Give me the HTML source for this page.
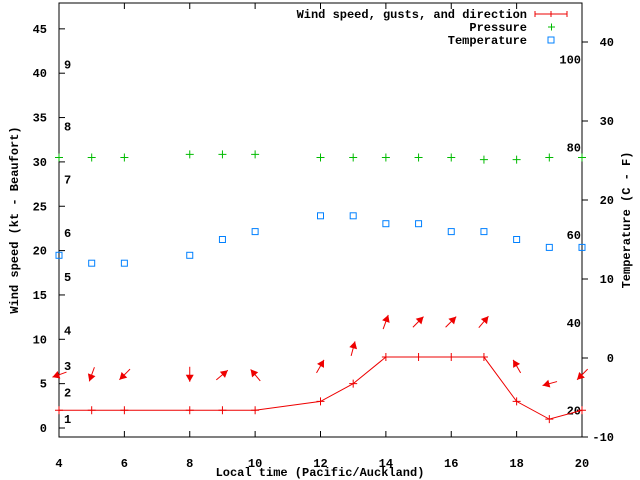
<!DOCTYPE html>
<html><head><meta charset="utf-8"><style>
html,body{margin:0;padding:0;background:#fff;}
svg{display:block;font-family:"Liberation Mono",monospace;font-weight:bold;font-size:12px;}
</style></head><body>
<svg id="chart" width="640" height="480" viewBox="0 0 640 480" xmlns="http://www.w3.org/2000/svg">
<g id="axes"></g>
<g id="marks"></g>
<g>
<text x="527" y="18" text-anchor="end">Wind speed, gusts, and direction</text>
<line x1="535" y1="14" x2="567" y2="14" stroke="#e00"/>
<line x1="535" y1="11" x2="535" y2="17" stroke="#e00"/>
<line x1="567" y1="11" x2="567" y2="17" stroke="#e00"/>
<line x1="551" y1="11" x2="551" y2="17" stroke="#e00"/>
<text x="527" y="31" text-anchor="end">Pressure</text>
<path d="M548,27h7M551.5,23.5v7" stroke="#0b0"/>
<text x="527" y="44" text-anchor="end">Temperature</text>
<rect x="548" y="37" width="6" height="6" fill="none" stroke="#0080ff"/>
</g>
<text x="320" y="476" text-anchor="middle">Local time (Pacific/Auckland)</text>
<text transform="translate(18,220) rotate(-90)" text-anchor="middle">Wind speed (kt - Beaufort)</text>
<text transform="translate(630,220) rotate(-90)" text-anchor="middle">Temperature (C - F)</text>
</svg>
<script>
const hours = [4,5,6,8,9,10,12,13,14,15,16,17,18,19,20];
const windSpeed = [2,2,2,2,2,2,3,5,8,8,8,8,3,1,2];
const windDir = [200,250,225,270,40,130,60,75,70,45,45,50,120,195,225];
const pressure = [30.5,30.5,30.5,30.85,30.85,30.85,30.5,30.5,30.5,30.5,30.5,30.25,30.25,30.5,30.5];
const temperature = [13,12,12,13,15,16,18,18,17,17,16,16,15,14,14];
const xTicks = [4,6,8,10,12,14,16,18,20];
const yTicks = [0,5,10,15,20,25,30,35,40,45];
const cTicks = [-10,0,10,20,30,40];
const fTicks = [20,40,60,80,100];
const beaufortLabels = ["1","2","3","4","5","6","7","8","9"];
const beaufortPos = [1,4,7,11,17,22,28,34,41];

const L=59,R=582,T=3,B=437;
const x = h => L + (h-4)*(R-L)/16;
const y = v => 428 - v*8.87;
const yc = c => 358 - c*7.9;
const NS="http://www.w3.org/2000/svg";
const axes=document.getElementById('axes'), marks=document.getElementById('marks');
function mk(tag, attrs, parent, txt){const e=document.createElementNS(NS,tag);for(const k in attrs)e.setAttribute(k,attrs[k]);if(txt!==undefined)e.textContent=txt;parent.appendChild(e);return e;}

let e=mk('rect',{x:L,y:T,width:R-L,height:B-T,fill:'none',stroke:'#000'},axes);


xTicks.forEach(t=>{
  let l=mk('path',{d:`M${x(t)},${B}v-6M${x(t)},${T}v6`,stroke:'#000'},axes);
  
  
  let s=mk('text',{x:x(t),y:467,'text-anchor':'middle'},axes,String(t));
  
  
});
yTicks.forEach(t=>{
  let l=mk('path',{d:`M${L},${y(t)}h6`,stroke:'#000'},axes);
  
  
  let s=mk('text',{x:47,y:y(t)+4,'text-anchor':'end'},axes,String(t));
  
  
});
cTicks.forEach(t=>{
  let l=mk('path',{d:`M${R},${yc(t)}h6`,stroke:'#000'},axes);
  
  
  let s=mk('text',{x:614,y:yc(t)+4,'text-anchor':'end'},axes,String(t));
  
  
});
fTicks.forEach(t=>{
  let s=mk('text',{x:581,y:yc((t-32)*5/9)+4,'text-anchor':'end'},axes,String(t));
  
  
});
beaufortLabels.forEach((b,i)=>{
  let s=mk('text',{x:64,y:y(beaufortPos[i])+4},axes,b);
  
  
});
// wind line
let pts=hours.map((h,i)=>`${x(h)},${y(windSpeed[i])}`).join(' ');
let pl=mk('polyline',{points:pts,fill:'none',stroke:'#e00'},marks);


hours.forEach((h,i)=>{
  let p=mk('path',{d:`M${x(h)-4},${y(windSpeed[i])}h8M${x(h)},${y(windSpeed[i])-4}v8`,stroke:'#e00'},marks);
  
  
  // arrow
  const cx=x(h), cy=y(windSpeed[i]+4), a=windDir[i]*Math.PI/180;
  const dx=Math.cos(a), dy=-Math.sin(a);
  const hx=cx+dx*7, hy=cy+dy*7, tx=cx-dx*8, ty=cy-dy*8;
  const px=-dy, py=dx;
  let g=mk('g',{},marks);
  
  
  mk('line',{x1:tx,y1:ty,x2:hx,y2:hy,stroke:'#e00'},g);
  mk('polygon',{points:`${hx},${hy} ${hx-dx*7+px*4},${hy-dy*7+py*4} ${hx-dx*7-px*4},${hy-dy*7-py*4}`,fill:'#e00'},g);
  // pressure
  let q=mk('path',{d:`M${x(h)-4},${y(pressure[i])}h8M${x(h)},${y(pressure[i])-4}v8`,stroke:'#0b0'},marks);
  
  
  // temperature
  let r=mk('rect',{x:x(h)-3,y:yc(temperature[i])-3,width:6,height:6,fill:'none',stroke:'#0080ff'},marks);
  
  
});
</script>
</body></html>
